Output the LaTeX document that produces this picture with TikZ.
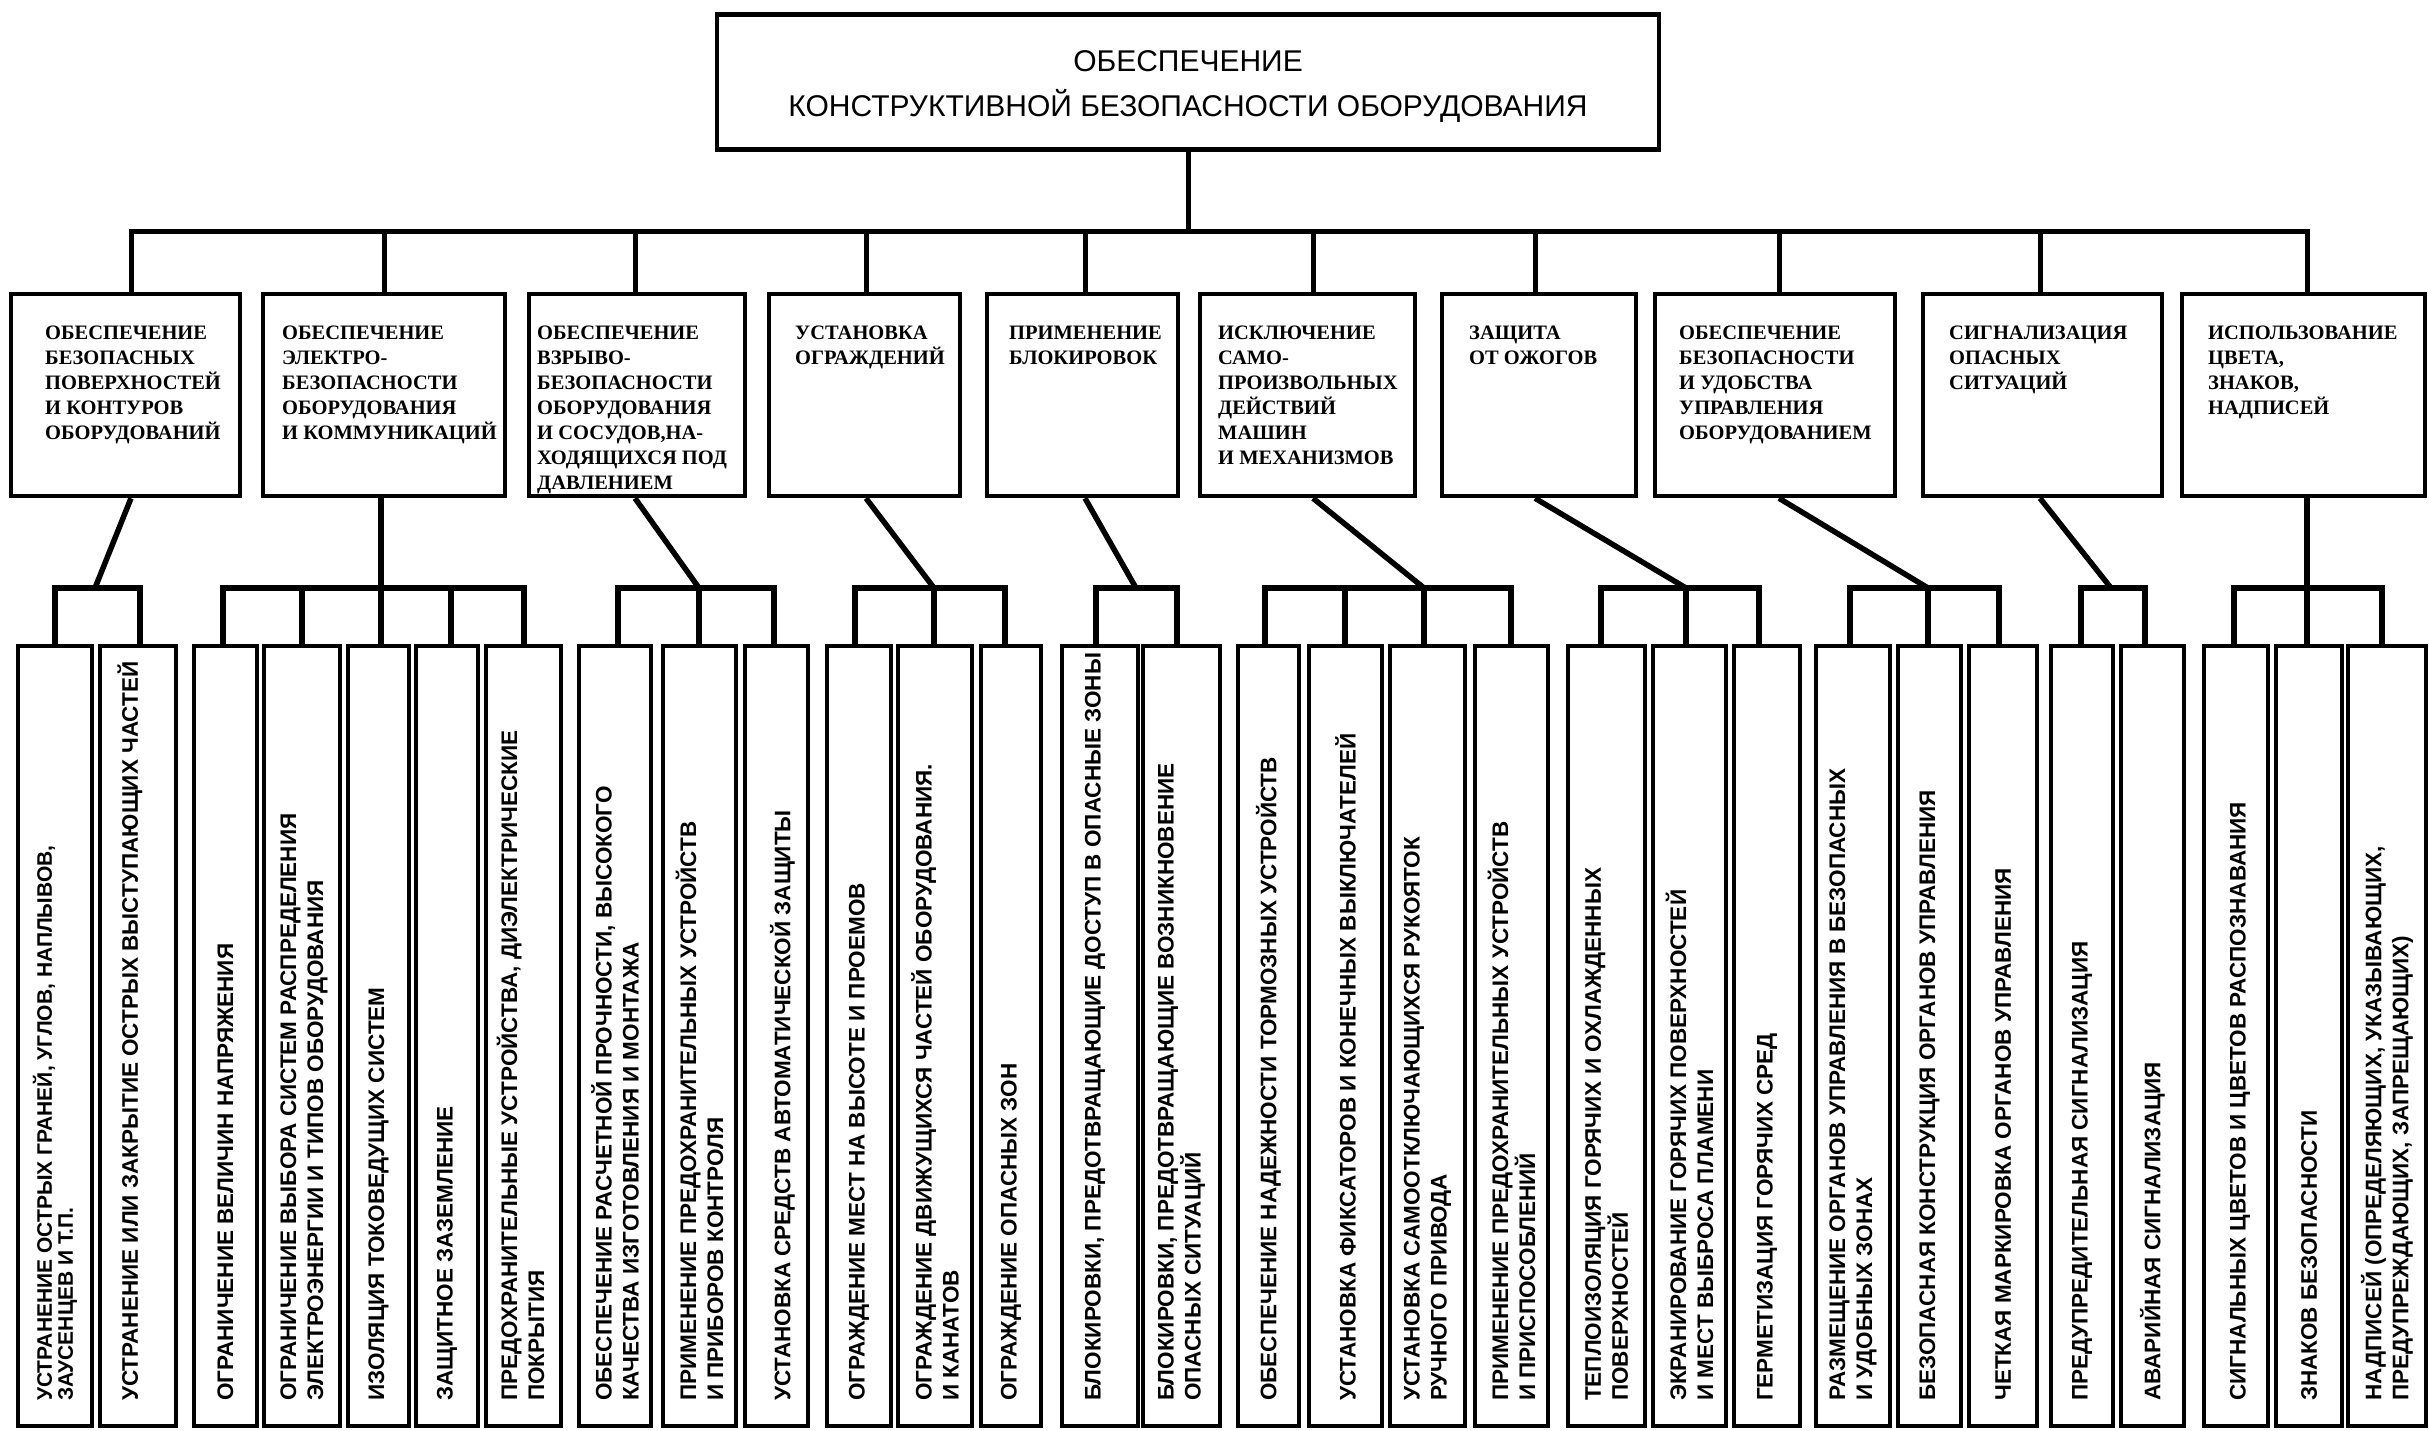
\documentclass[tikz,border=0pt]{standalone}
\usepackage{fontspec}
\setmainfont{Liberation Serif}
\newfontfamily\topfnt{Liberation Sans}
\newfontfamily\catfnt{Liberation Serif}
\newfontfamily\leaffnt{Liberation Sans}
\tikzset{
  box/.style={draw, line width=4.5pt, inner sep=0pt, rectangle},
  topbox/.style={box, minimum width=942pt, minimum height=135pt},
  catbox/.style={box, minimum height=202pt},
  leafbox/.style={box, minimum height=780pt},
  toptext/.style={align=center, inner sep=0pt, font=\topfnt\fontsize{30}{45}\selectfont},
  cattext/.style={anchor=north west, align=left, inner sep=0pt, font=\catfnt\bfseries\fontsize{20.5}{25}\selectfont},
  leaftext/.style={rotate=90, anchor=west, align=left, inner sep=0pt, font=\leaffnt\bfseries\fontsize{22.5}{27}\selectfont},
  conn/.style={line width=5.5pt},
  mainbus/.style={line width=5pt},
}
\newcommand\cs{\rule{0pt}{17pt}}
% level-2 box: name, x1, x2, text x, text
\newcommand\catnode[5]{%
  \node[catbox, minimum width={#3-#2}] (#1) at ({(#2+#3)/2},395) {};
  \node[cattext] (#1t) at (#4,322) {\cs #5};
}
% level-3 box: [opts], name, x1, x2, shift, text
\newcommand\leafnode[6][]{%
  \node[leafbox, minimum width={#4-#3}] (#2) at ({(#3+#4)/2},1036) {};
  \node[leaftext,#1] (#2t) at ({(#3+#4)/2+#5},1401) {#6};
}
\begin{document}
\begin{tikzpicture}[x=1pt,y=-1pt]
\fill[white] (0,0) rectangle (2429,1431);
\useasboundingbox (0,0) rectangle (2429,1431);

% top box
\node[topbox] (top) at (1188,82) {};
\node[toptext] (topt) at (1188,87) {ОБЕСПЕЧЕНИЕ\\КОНСТРУКТИВНОЙ БЕЗОПАСНОСТИ ОБОРУДОВАНИЯ};

% level 2
\catnode{L1}{11}{240}{45}{ОБЕСПЕЧЕНИЕ\\БЕЗОПАСНЫХ\\ПОВЕРХНОСТЕЙ\\И КОНТУРОВ\\ОБОРУДОВАНИЙ}
\catnode{L2}{263}{505}{282}{ОБЕСПЕЧЕНИЕ\\ЭЛЕКТРО-\\БЕЗОПАСНОСТИ\\ОБОРУДОВАНИЯ\\И КОММУНИКАЦИЙ}
\catnode{L3}{529}{745}{537}{ОБЕСПЕЧЕНИЕ\\ВЗРЫВО-\\БЕЗОПАСНОСТИ\\ОБОРУДОВАНИЯ\\И СОСУДОВ,НА-\\ХОДЯЩИХСЯ ПОД\\ДАВЛЕНИЕМ}
\catnode{L4}{769}{960}{795}{УСТАНОВКА\\ОГРАЖДЕНИЙ}
\catnode{L5}{987}{1178}{1009}{ПРИМЕНЕНИЕ\\БЛОКИРОВОК}
\catnode{L6}{1200}{1415}{1218}{ИСКЛЮЧЕНИЕ\\САМО-\\ПРОИЗВОЛЬНЫХ\\ДЕЙСТВИЙ\\МАШИН\\И МЕХАНИЗМОВ}
\catnode{L7}{1442}{1636}{1469}{ЗАЩИТА\\ОТ ОЖОГОВ}
\catnode{L8}{1655}{1895}{1679}{ОБЕСПЕЧЕНИЕ\\БЕЗОПАСНОСТИ\\И УДОБСТВА\\УПРАВЛЕНИЯ\\ОБОРУДОВАНИЕМ}
\catnode{L9}{1923}{2162}{1949}{СИГНАЛИЗАЦИЯ\\ОПАСНЫХ\\СИТУАЦИЙ}
\catnode{L10}{2182}{2425}{2208}{ИСПОЛЬЗОВАНИЕ\\ЦВЕТА,\\ЗНАКОВ,\\НАДПИСЕЙ}

% level 3
\leafnode[font=\leaffnt\bfseries\fontsize{21}{21}\selectfont]{b1}{18}{92}{0}{УСТРАНЕНИЕ ОСТРЫХ ГРАНЕЙ, УГЛОВ, НАПЛЫВОВ,\\ЗАУСЕНЦЕВ И Т.П.}
\leafnode{b2}{100}{176}{-8}{УСТРАНЕНИЕ ИЛИ ЗАКРЫТИЕ ОСТРЫХ ВЫСТУПАЮЩИХ ЧАСТЕЙ}
\leafnode{b3}{194}{257}{0}{ОГРАНИЧЕНИЕ ВЕЛИЧИН НАПРЯЖЕНИЯ}
\leafnode{b4}{264}{340}{2}{ОГРАНИЧЕНИЕ ВЫБОРА СИСТЕМ РАСПРЕДЕЛЕНИЯ\\ЭЛЕКТРОЭНЕРГИИ И ТИПОВ ОБОРУДОВАНИЯ}
\leafnode{b5}{348}{409}{0}{ИЗОЛЯЦИЯ ТОКОВЕДУЩИХ СИСТЕМ}
\leafnode{b6}{416}{478}{0}{ЗАЩИТНОЕ ЗАЗЕМЛЕНИЕ}
\leafnode{b7}{486}{561}{-3}{ПРЕДОХРАНИТЕЛЬНЫЕ УСТРОЙСТВА, ДИЭЛЕКТРИЧЕСКИЕ\\ПОКРЫТИЯ}
\leafnode{b8}{579}{651}{0}{ОБЕСПЕЧЕНИЕ РАСЧЕТНОЙ ПРОЧНОСТИ, ВЫСОКОГО\\КАЧЕСТВА ИЗГОТОВЛЕНИЯ И МОНТАЖА}
\leafnode{b9}{663}{736}{0}{ПРИМЕНЕНИЕ ПРЕДОХРАНИТЕЛЬНЫХ УСТРОЙСТВ\\И ПРИБОРОВ КОНТРОЛЯ}
\leafnode{b10}{745}{808}{6}{УСТАНОВКА СРЕДСТВ АВТОМАТИЧЕСКОЙ ЗАЩИТЫ}
\leafnode{b11}{827}{891}{0}{ОГРАЖДЕНИЕ МЕСТ НА ВЫСОТЕ И ПРОЕМОВ}
\leafnode{b12}{898}{972}{0}{ОГРАЖДЕНИЕ ДВИЖУЩИХСЯ ЧАСТЕЙ ОБОРУДОВАНИЯ.\\И КАНАТОВ}
\leafnode{b13}{981}{1041}{0}{ОГРАЖДЕНИЕ ОПАСНЫХ ЗОН}
\leafnode{b14}{1062}{1138}{-5}{БЛОКИРОВКИ, ПРЕДОТВРАЩАЮЩИЕ ДОСТУП В ОПАСНЫЕ ЗОНЫ}
\leafnode{b15}{1143}{1220}{0}{БЛОКИРОВКИ, ПРЕДОТВРАЩАЮЩИЕ ВОЗНИКНОВЕНИЕ\\ОПАСНЫХ СИТУАЦИЙ}
\leafnode{b16}{1238}{1299}{0}{ОБЕСПЕЧЕНИЕ НАДЕЖНОСТИ ТОРМОЗНЫХ УСТРОЙСТВ}
\leafnode{b17}{1309}{1382}{0}{УСТАНОВКА ФИКСАТОРОВ И КОНЕЧНЫХ ВЫКЛЮЧАТЕЛЕЙ}
\leafnode{b18}{1390}{1465}{0}{УСТАНОВКА САМООТКЛЮЧАЮЩИХСЯ РУКОЯТОК\\РУЧНОГО ПРИВОДА}
\leafnode{b19}{1475}{1548}{0}{ПРИМЕНЕНИЕ ПРЕДОХРАНИТЕЛЬНЫХ УСТРОЙСТВ\\И ПРИСПОСОБЛЕНИЙ}
\leafnode{b20}{1568}{1645}{0}{ТЕПЛОИЗОЛЯЦИЯ ГОРЯЧИХ И ОХЛАЖДЕННЫХ\\ПОВЕРХНОСТЕЙ}
\leafnode{b21}{1653}{1726}{0}{ЭКРАНИРОВАНИЕ ГОРЯЧИХ ПОВЕРХНОСТЕЙ\\И МЕСТ ВЫБРОСА ПЛАМЕНИ}
\leafnode{b22}{1734}{1800}{0}{ГЕРМЕТИЗАЦИЯ ГОРЯЧИХ СРЕД}
\leafnode{b23}{1816}{1890}{0}{РАЗМЕЩЕНИЕ ОРГАНОВ УПРАВЛЕНИЯ В БЕЗОПАСНЫХ\\И УДОБНЫХ ЗОНАХ}
\leafnode{b24}{1898}{1961}{0}{БЕЗОПАСНАЯ КОНСТРУКЦИЯ ОРГАНОВ УПРАВЛЕНИЯ}
\leafnode{b25}{1969}{2037}{0}{ЧЕТКАЯ МАРКИРОВКА ОРГАНОВ УПРАВЛЕНИЯ}
\leafnode{b26}{2051}{2113}{0}{ПРЕДУПРЕДИТЕЛЬНАЯ СИГНАЛИЗАЦИЯ}
\leafnode{b27}{2121}{2184}{0}{АВАРИЙНАЯ СИГНАЛИЗАЦИЯ}
\leafnode{b28}{2204}{2268}{4}{СИГНАЛЬНЫХ ЦВЕТОВ И ЦВЕТОВ РАСПОЗНАВАНИЯ}
\leafnode{b29}{2276}{2342}{0}{ЗНАКОВ БЕЗОПАСНОСТИ}
\leafnode{b30}{2348}{2426}{0}{НАДПИСЕЙ (ОПРЕДЕЛЯЮЩИХ, УКАЗЫВАЮЩИХ,\\ПРЕДУПРЕЖДАЮЩИХ, ЗАПРЕЩАЮЩИХ)}

% main bus
\coordinate (s1) at (131,232);
\coordinate (s2) at (384,232);
\coordinate (s3) at (635,232);
\coordinate (s4) at (866,232);
\coordinate (s5) at (1085,232);
\coordinate (s6) at (1313,232);
\coordinate (s7) at (1535,232);
\coordinate (s8) at (1779,232);
\coordinate (s9) at (2040,232);
\coordinate (s10) at (2307,232);
\draw[mainbus] (top.south) -- (top.south |- s1);
\draw[mainbus] (s1 |- L1.north) -- (s1) -- (s10) -- (s10 |- L10.north);
\foreach \i in {2,...,9} { \draw[mainbus] (s\i) -- (s\i |- L\i.north); }

% group 1
\coordinate (g1a) at (55,588); \coordinate (g1m) at (95,588); \coordinate (g1b) at (140,588);
\draw[conn] (g1a |- b1.north) -- (g1a) -- (g1b) -- (g1b |- b2.north);
\draw[conn] (s1 |- L1.south) -- (g1m);
% group 2
\coordinate (g2a) at (223,588); \coordinate (g2b) at (302,588); \coordinate (g2c) at (381,588);
\coordinate (g2d) at (451,588); \coordinate (g2e) at (524,588);
\draw[conn] (g2a |- b3.north) -- (g2a) -- (g2e) -- (g2e |- b7.north);
\draw[conn] (g2b) -- (g2b |- b4.north);
\draw[conn] (g2d) -- (g2d |- b6.north);
\draw[conn] (g2c |- L2.south) -- (g2c |- b5.north);
% group 3
\coordinate (g3a) at (618,588); \coordinate (g3b) at (699,588); \coordinate (g3c) at (774,588);
\draw[conn] (g3a |- b8.north) -- (g3a) -- (g3c) -- (g3c |- b10.north);
\draw[conn] (g3b) -- (g3b |- b9.north);
\draw[conn] (s3 |- L3.south) -- (g3b);
% group 4
\coordinate (g4a) at (855,588); \coordinate (g4b) at (934,588); \coordinate (g4c) at (1005,588);
\draw[conn] (g4a |- b11.north) -- (g4a) -- (g4c) -- (g4c |- b13.north);
\draw[conn] (g4b) -- (g4b |- b12.north);
\draw[conn] (s4 |- L4.south) -- (g4b);
% group 5
\coordinate (g5a) at (1096,588); \coordinate (g5m) at (1136,588); \coordinate (g5b) at (1177,588);
\draw[conn] (g5a |- b14.north) -- (g5a) -- (g5b) -- (g5b |- b15.north);
\draw[conn] (s5 |- L5.south) -- (g5m);
% group 6
\coordinate (g6a) at (1265,588); \coordinate (g6b) at (1345,588); \coordinate (g6c) at (1424,588);
\coordinate (g6d) at (1511,588);
\draw[conn] (g6a |- b16.north) -- (g6a) -- (g6d) -- (g6d |- b19.north);
\draw[conn] (g6b) -- (g6b |- b17.north);
\draw[conn] (g6c) -- (g6c |- b18.north);
\draw[conn] (s6 |- L6.south) -- (g6c);
% group 7
\coordinate (g7a) at (1601,588); \coordinate (g7b) at (1686,588); \coordinate (g7c) at (1759,588);
\draw[conn] (g7a |- b20.north) -- (g7a) -- (g7c) -- (g7c |- b22.north);
\draw[conn] (g7b) -- (g7b |- b21.north);
\draw[conn] (s7 |- L7.south) -- (g7b);
% group 8
\coordinate (g8a) at (1850,588); \coordinate (g8b) at (1928,588); \coordinate (g8c) at (1999,588);
\draw[conn] (g8a |- b23.north) -- (g8a) -- (g8c) -- (g8c |- b25.north);
\draw[conn] (g8b) -- (g8b |- b24.north);
\draw[conn] (s8 |- L8.south) -- (g8b);
% group 9
\coordinate (g9a) at (2081,588); \coordinate (g9m) at (2111,588); \coordinate (g9b) at (2145,588);
\draw[conn] (g9a |- b26.north) -- (g9a) -- (g9b) -- (g9b |- b27.north);
\draw[conn] (s9 |- L9.south) -- (g9m);
% group 10
\coordinate (g10a) at (2234,588); \coordinate (g10b) at (2307,588); \coordinate (g10c) at (2382,588);
\draw[conn] (g10a |- b28.north) -- (g10a) -- (g10c) -- (g10c |- b30.north);
\draw[conn] (s10 |- L10.south) -- (g10b |- b29.north);
\end{tikzpicture}
\end{document}
